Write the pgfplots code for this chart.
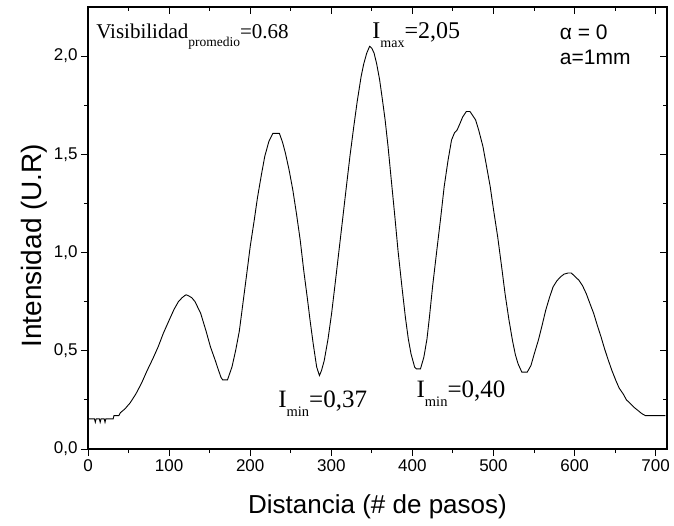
\documentclass[border=0pt]{standalone}
\usepackage{pgfplots}
\pgfplotsset{compat=1.18}
\usepackage{fontspec}
\setmainfont{Liberation Sans}
\newfontfamily\tnr{Liberation Serif}
\pgfplotstableread{
x y
0 0.153
8 0.153
9 0.136
10 0.153
14 0.153
15 0.136
16 0.153
20 0.153
21 0.136
22 0.153
31 0.153
32 0.17
38 0.17
40 0.185
45.5 0.204
52 0.235
59 0.28
66 0.335
73 0.40
80 0.46
86.5 0.52
93 0.59
100 0.655
106 0.71
111.5 0.75
116 0.77
119 0.78
121 0.785
124 0.78
128 0.77
132 0.75
139 0.69
145.6 0.60
151 0.52
157 0.45
161 0.40
164 0.365
166 0.352
172 0.352
177.5 0.417
182 0.50
186.6 0.60
191 0.74
195.7 0.89
200 1.03
205 1.165
209 1.28
214 1.40
218 1.49
223 1.565
228 1.607
236 1.607
240 1.56
243.5 1.505
248 1.42
252.6 1.318
257 1.20
261.7 1.063
266 0.91
270.8 0.757
274 0.65
277.7 0.536
282 0.417
285.4 0.374
288 0.40
291.3 0.45
296 0.56
300.4 0.69
305 0.85
309.5 1.01
314 1.17
318.6 1.335
323 1.49
327.7 1.64
332 1.77
336.8 1.896
340 1.96
343.7 2.015
347.3 2.05
350 2.04
352.8 2.015
356 1.96
359.6 1.88
363 1.78
366.4 1.675
370 1.54
373.2 1.403
378 1.20
382.3 1.01
387 0.83
391.4 0.67
395 0.56
398.3 0.485
402.8 0.417
405 0.408
410 0.408
414.2 0.468
418 0.56
421 0.67
425 0.83
430.1 1.01
435 1.18
439.2 1.335
444 1.47
448.3 1.573
452 1.61
455.2 1.624
459 1.66
462 1.69
466.5 1.718
471 1.718
474 1.70
478 1.675
482 1.62
487 1.54
491 1.45
496 1.335
500 1.22
505.2 1.08
510 0.93
514.3 0.79
519 0.66
523.4 0.553
527 0.48
530.3 0.434
535 0.391
541.6 0.391
546.2 0.425
550 0.48
555.3 0.553
560 0.63
564.4 0.706
569 0.77
573.5 0.825
578 0.855
582.6 0.876
587 0.89
592 0.896
596 0.896
600 0.88
605.4 0.859
610 0.83
614.5 0.79
619 0.74
623.6 0.69
628 0.63
632.7 0.57
637 0.51
641.8 0.45
646 0.40
650.9 0.349
655 0.31
660 0.28
664 0.25
669.1 0.23
674 0.21
678.2 0.196
683 0.18
687.3 0.17
696 0.17
712 0.17
}\datatable
\begin{document}
\begin{tikzpicture}
\pgfplotsset{
  common/.style={
    scale only axis, width=579pt, height=442pt,
    xmin=0, xmax=714, ymin=0, ymax=2.25,
    xtick={0,100,...,700}, minor xtick={50,150,...,650},
    ytick={0,0.5,1,1.5,2}, minor ytick={0.25,0.75,1.25,1.75},
    major tick length=7pt, minor tick length=4pt,
    every tick/.style={black, line width=1pt},
    axis line style={line width=1.3pt},
  }
}
\begin{axis}[common,
    tick align=outside, xtick pos=bottom, ytick pos=left,
    /pgf/number format/assume math mode=true,
    ticklabel style={font=\fontsize{17}{17}\selectfont},
    yticklabel style={/pgf/number format/.cd, fixed, fixed zerofill, precision=1, use comma},
    xticklabel style={/pgf/number format/.cd, fixed, precision=0},
    xlabel={Distancia (\# de pasos)},
    ylabel={Intensidad (U.R)},
    xlabel style={font=\fontsize{26}{26}\selectfont, at={(axis description cs:0.5,-0.145)}, anchor=base},
    ylabel style={font=\fontsize{28}{28}\selectfont, at={(axis description cs:-0.0795,0.46)}, anchor=base},
  ]
  \addplot[black, line width=0.9pt] table[x=x, y=y] {\datatable};
  \node[anchor=base west, inner sep=0] at (axis cs:10,2.09)
    {\tnr\fontsize{21}{21}\selectfont Visibilidad\raisebox{-8pt}{\fontsize{13.5}{13.5}\selectfont promedio}=0.68};
  \node[anchor=base west, inner sep=0] at (axis cs:350.5,2.09)
    {\tnr\fontsize{24}{24}\selectfont I\raisebox{-9pt}{\fontsize{14}{14}\selectfont max}=2,05};
  \node[anchor=base west, inner sep=0] at (axis cs:234.4,0.209)
    {\tnr\fontsize{25}{25}\selectfont I\raisebox{-9pt}{\fontsize{14.5}{14.5}\selectfont min}=0,37};
  \node[anchor=base west, inner sep=0] at (axis cs:405,0.264)
    {\tnr\fontsize{25}{25}\selectfont I\raisebox{-9pt}{\fontsize{14.5}{14.5}\selectfont min}=0,40};
  \node[anchor=base west, inner sep=0] at (axis cs:581.7,2.087)
    {\fontsize{21}{21}\selectfont α = 0};
  \node[anchor=base west, inner sep=0] at (axis cs:581.7,1.956)
    {\fontsize{21}{21}\selectfont a=1mm};
\end{axis}
\begin{axis}[common,
    tick align=inside, xtick pos=top, ytick pos=right,
    xticklabels={}, yticklabels={},
  ]
\end{axis}
\pgfresetboundingbox
\path[use as bounding box] (-88pt,-76pt) rectangle (586pt,449pt);
\end{tikzpicture}
\end{document}
